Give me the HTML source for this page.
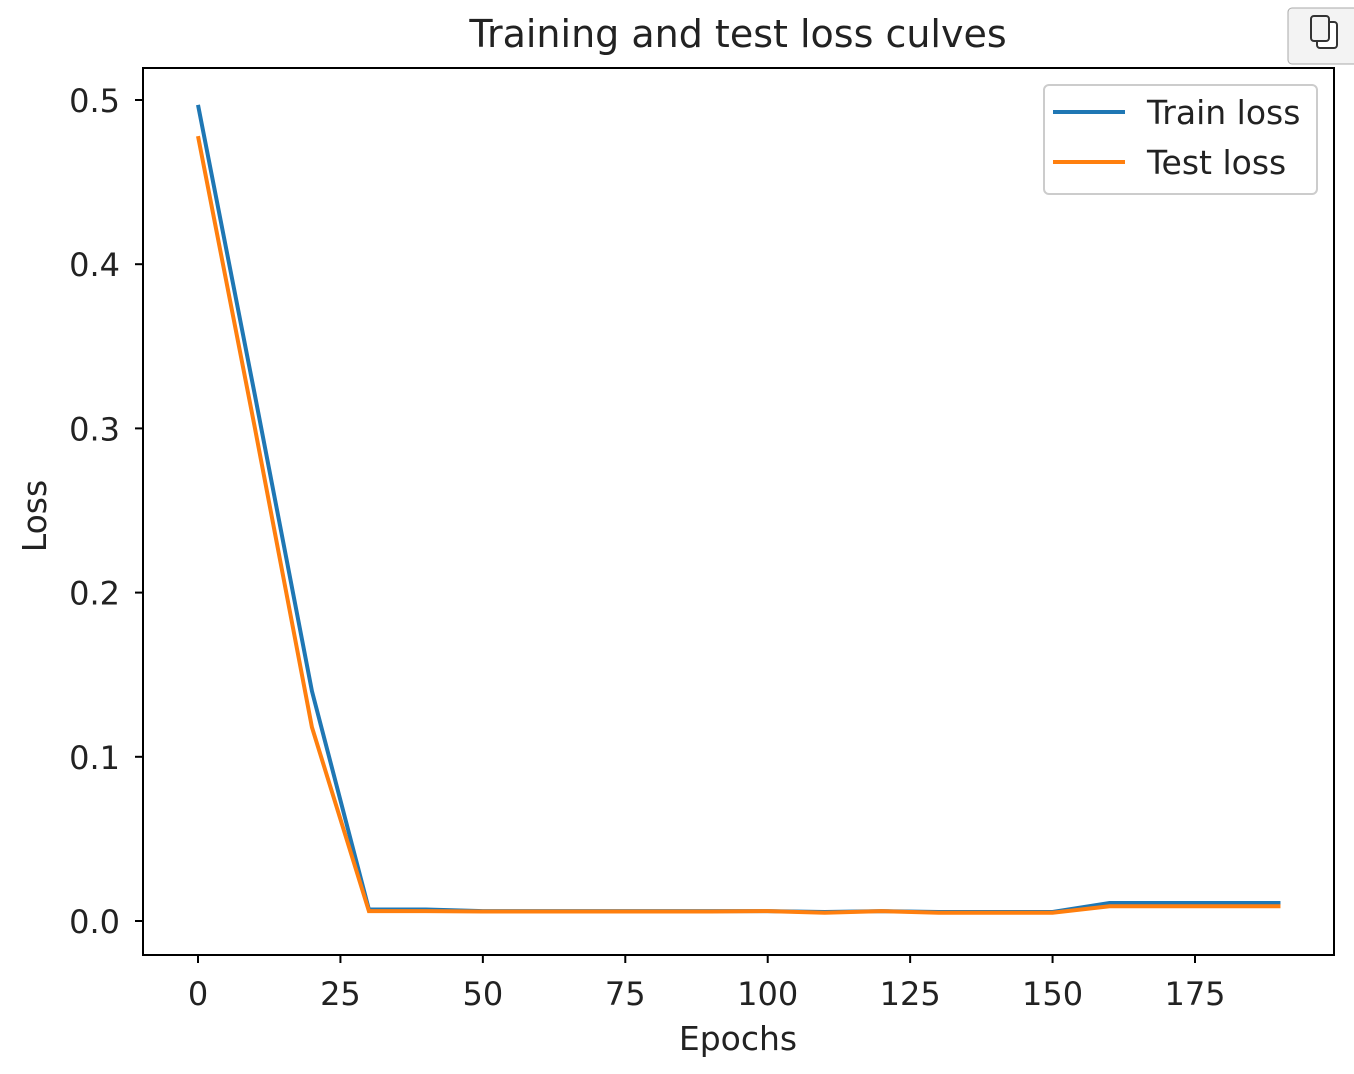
<!DOCTYPE html>
<html><head><meta charset="utf-8"><style>
body{margin:0;background:#fff;font-family:"DejaVu Sans","Liberation Sans",sans-serif;}
svg text{font-family:"DejaVu Sans","Liberation Sans",sans-serif;fill:#222;}
</style></head><body>
<svg width="1354" height="1070">
<rect x="1288" y="8" width="70" height="56" rx="4" fill="#f3f3f3" stroke="#aaa"/>
<g fill="none" stroke="#333" stroke-width="2"><rect x="1317" y="22" width="20" height="26" rx="3" fill="#fff"/><rect x="1311" y="16" width="18" height="25" rx="3" fill="#f3f3f3"/></g>
<text x="738" y="47" font-size="38" text-anchor="middle">Training and test loss culves</text>
<rect x="143" y="68" width="1191" height="887" fill="none" stroke="#000" stroke-width="2"/>
<g id="xt"></g><g id="yt"></g><g id="lines"></g>
<text x="738" y="1050" font-size="33" text-anchor="middle">Epochs</text>
<text transform="translate(46,516) rotate(-90)" font-size="33" text-anchor="middle">Loss</text>
<g>
<rect x="1044" y="85" width="273" height="109" rx="5" fill="#fff" stroke="#ccc" stroke-width="2"/>
<line x1="1053" y1="112" x2="1125" y2="112" stroke="#1f77b4" stroke-width="4"/>
<text x="1147" y="124" font-size="33">Train loss</text>
<line x1="1053" y1="162" x2="1125" y2="162" stroke="#ff7f0e" stroke-width="4"/>
<text x="1147" y="174" font-size="33">Test loss</text>
</g>
</svg>
<script>
const epochs=[0,10,20,30,40,50,60,70,80,90,100,110,120,130,140,150,160,170,180,190];
const trainLoss=[0.497,0.32,0.14,0.007,0.007,0.006,0.006,0.006,0.006,0.006,0.006,0.0055,0.006,0.0055,0.0055,0.0055,0.011,0.011,0.011,0.011];
const testLoss=[0.478,0.30,0.118,0.006,0.006,0.0058,0.0058,0.0058,0.0058,0.0058,0.006,0.005,0.006,0.005,0.005,0.005,0.009,0.009,0.009,0.009];
const xTicks=[0,25,50,75,100,125,150,175];
const yTicks=[0.0,0.1,0.2,0.3,0.4,0.5];
const NS="http://www.w3.org/2000/svg";
const xs=v=>198+v*(997/175);
const ys=v=>921-v*(821/0.5);
const xt=document.getElementById('xt'),yt=document.getElementById('yt'),lg=document.getElementById('lines');
xTicks.forEach(t=>{
const l=document.createElementNS(NS,'line');l.setAttribute('x1',xs(t));l.setAttribute('x2',xs(t));l.setAttribute('y1',955);l.setAttribute('y2',963);l.setAttribute('stroke','#000');l.setAttribute('stroke-width','2');


xt.appendChild(l);
const tx=document.createElementNS(NS,'text');tx.setAttribute('x',xs(t));tx.setAttribute('y',1005);tx.setAttribute('font-size','32');tx.setAttribute('text-anchor','middle');tx.textContent=t;


xt.appendChild(tx);});
yTicks.forEach(t=>{
const l=document.createElementNS(NS,'line');l.setAttribute('x1',135);l.setAttribute('x2',143);l.setAttribute('y1',ys(t));l.setAttribute('y2',ys(t));l.setAttribute('stroke','#000');l.setAttribute('stroke-width','2');


yt.appendChild(l);
const tx=document.createElementNS(NS,'text');tx.setAttribute('x',120);tx.setAttribute('y',ys(t)+12);tx.setAttribute('font-size','32');tx.setAttribute('text-anchor','end');tx.textContent=t.toFixed(1);


yt.appendChild(tx);});
function line(vals,color,name){
const p=document.createElementNS(NS,'polyline');
p.setAttribute('points',vals.map((v,i)=>xs(epochs[i])+','+ys(v)).join(' '));
p.setAttribute('fill','none');p.setAttribute('stroke',color);p.setAttribute('stroke-width','4');


lg.appendChild(p);}
line(trainLoss,'#1f77b4','train-loss-line');
line(testLoss,'#ff7f0e','test-loss-line');
</script>
</body></html>
